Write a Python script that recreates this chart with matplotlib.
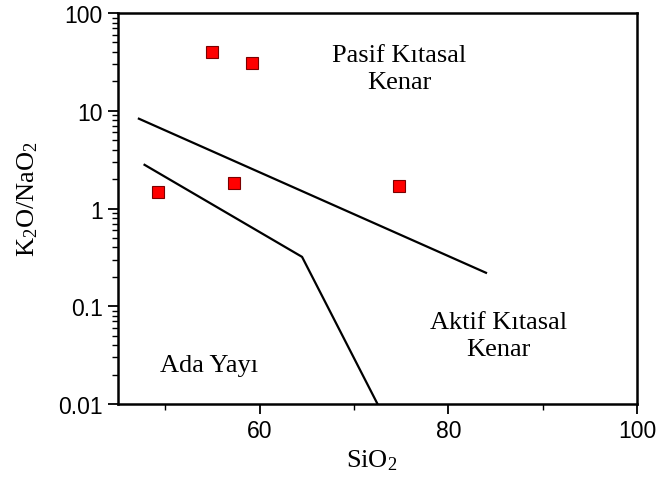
#!/usr/bin/env python3
"""
K2O/NaO2 vs SiO2 tectonic setting diagram
"""

import numpy as np
import matplotlib
matplotlib.use('Agg')
import matplotlib.pyplot as plt
from matplotlib.ticker import LogLocator, FixedLocator, NullFormatter

plt.rcParams['mathtext.fontset'] = 'custom'
plt.rcParams['mathtext.rm'] = 'Liberation Serif'
plt.rcParams['mathtext.it'] = 'Liberation Serif:italic'

# Sample points
sio2 = [55.0, 59.2, 49.2, 57.3, 74.8]
k2o_nao2 = [40.0, 30.5, 1.48, 1.82, 1.70]

# Boundary lines
upper_x = [47.2, 84.0]
upper_y = [8.3, 0.22]
lower_x = [47.8, 64.5, 72.5]
lower_y = [2.8, 0.32, 0.01]

# Field labels
fields = ["Pasif Kıtasal\nKenar", "Aktif Kıtasal\nKenar", "Ada Yayı"]
field_x = [74.8, 85.3, 54.6]
field_y = [27.0, 0.05, 0.025]

xticks = [60, 80, 100]


def main():
    fig = plt.figure(figsize=(6.6, 4.85), dpi=100)
    ax = fig.add_axes([0.179, 0.165, 0.786, 0.806])

    ax.plot(upper_x, upper_y, color='black', linewidth=1.6)
    ax.plot(lower_x, lower_y, color='black', linewidth=1.6)
    ax.plot(sio2, k2o_nao2, linestyle='none', marker='s', markersize=9.3,
            markerfacecolor='#ff0000', markeredgecolor='#7a0000',
            markeredgewidth=0.8)

    for txt, x, y in zip(fields, field_x, field_y):
        ax.text(x, y, txt, ha='center', va='center', fontsize=19,
                family='Liberation Serif', linespacing=1.3)

    ax.set_yscale('log')
    ax.set_xlim(45, 100)
    ax.set_ylim(0.01, 100)

    ax.xaxis.set_major_locator(FixedLocator(xticks))
    ax.xaxis.set_minor_locator(FixedLocator([50, 70, 90]))
    ax.yaxis.set_minor_locator(LogLocator(base=10, subs=np.arange(2, 10), numticks=10))
    ax.yaxis.set_minor_formatter(NullFormatter())
    ax.set_yticks([0.01, 0.1, 1, 10, 100])
    ax.set_yticklabels(['0.01', '0.1', '1', '10', '100'])

    for lab in ax.get_xticklabels() + ax.get_yticklabels():
        lab.set_family('Liberation Sans')
        lab.set_fontsize(16.5)

    ax.tick_params(which='major', direction='out', length=7, width=1.3, pad=4)
    ax.tick_params(which='minor', direction='out', length=4, width=1.0)

    for sp in ax.spines.values():
        sp.set_linewidth(1.8)

    ax.set_xlabel('SiO$_2$', fontsize=19, family='Liberation Serif')
    ax.set_ylabel('K$_2$O/NaO$_2$', fontsize=19, family='Liberation Serif')
    ax.xaxis.set_label_coords(0.489, -0.112)
    ax.yaxis.set_label_coords(-0.15, 0.527)

    fig.savefig('out.png', dpi=100)
    plt.close(fig)


if __name__ == "__main__":
    main()
